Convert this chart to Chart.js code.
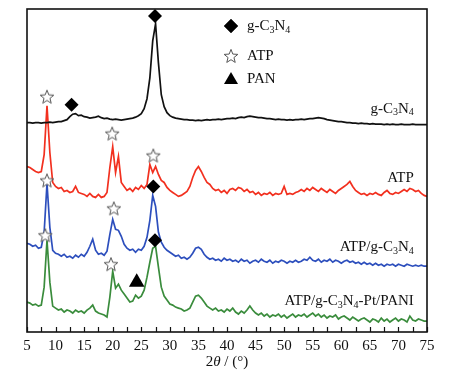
<!DOCTYPE html>
<html>
<head>
<meta charset="utf-8">
<script src="https://cdn.jsdelivr.net/npm/chart.js@4/dist/chart.umd.min.js"></script>
<style>
  html, body { margin: 0; padding: 0; background: #fff; }
  canvas { display: block; }
</style>
</head>
<body>
<canvas id="chart" width="464" height="376" style="width:464px;height:376px"></canvas>
<script>
'use strict'

// 2theta grid (degrees)
const twoTheta = [
  5, 5.5, 6, 6.5, 7, 7.5, 8, 8.5, 9, 9.5,
  10, 10.5, 11, 11.5, 12, 12.5, 13, 13.5, 14, 14.5,
  15, 15.5, 16, 16.5, 17, 17.5, 18, 18.5, 19, 19.5,
  20, 20.5, 21, 21.5, 22, 22.5, 23, 23.5, 24, 24.5,
  25, 25.5, 26, 26.5, 27, 27.5, 28, 28.5, 29, 29.5,
  30, 30.5, 31, 31.5, 32, 32.5, 33, 33.5, 34, 34.5,
  35, 35.5, 36, 36.5, 37, 37.5, 38, 38.5, 39, 39.5,
  40, 40.5, 41, 41.5, 42, 42.5, 43, 43.5, 44, 44.5,
  45, 45.5, 46, 46.5, 47, 47.5, 48, 48.5, 49, 49.5,
  50, 50.5, 51, 51.5, 52, 52.5, 53, 53.5, 54, 54.5,
  55, 55.5, 56, 56.5, 57, 57.5, 58, 58.5, 59, 59.5,
  60, 60.5, 61, 61.5, 62, 62.5, 63, 63.5, 64, 64.5,
  65, 65.5, 66, 66.5, 67, 67.5, 68, 68.5, 69, 69.5,
  70, 70.5, 71, 71.5, 72, 72.5, 73, 73.5, 74, 74.5,
  75
]

// stacked intensities (arbitrary units, offset per pattern)
const gcn = [
  210, 210, 209.5, 210, 210, 209.5, 210, 210, 210.5, 210,
  210.5, 211, 211, 212, 213, 216, 218.5, 219, 217, 217.5,
  216, 215.5, 214.5, 215, 215.5, 216.5, 215, 214, 214.5, 213.5,
  213, 213.5, 213, 212.5, 213, 213.5, 214, 214.5, 215.5, 217,
  219, 224, 234, 255, 292, 309, 270, 238, 226, 220,
  217, 215.5, 214.5, 214, 213.5, 213, 213, 212.5, 212.5, 212,
  212.5, 212, 212.5, 213, 212.5, 213, 213, 213.5, 213, 213.5,
  214, 214, 214.5, 214, 215, 215.5, 215, 216, 216.5, 216,
  215.5, 215, 215, 214.5, 214, 214, 213.5, 213, 213.5, 213,
  213, 212.5, 213, 212.5, 213, 213, 213.5, 213, 213.5, 214,
  214, 214.5, 215, 214.5, 214, 213, 212.5, 212, 211.5, 211,
  211, 210.5, 210, 210, 209.5, 209.5, 209, 209.5, 209, 209,
  208.5, 209, 208.5, 208.5, 208.5, 208, 208.5, 208, 208.5, 208,
  208, 208.5, 208, 208, 208, 208.5, 208, 208, 208, 208,
  208
]

const atp = [
  166, 165, 163, 161, 160, 161, 178, 227, 180, 150,
  146, 144, 145, 141, 142, 140, 141, 146, 140, 139,
  138, 136, 139, 136, 135, 138, 135, 136, 140, 165,
  186, 160, 176, 150, 146, 142, 144, 141, 145, 143,
  147, 144, 148, 168, 160, 166, 158, 152, 150, 145,
  142, 140, 138, 136, 137, 139, 141, 146, 155, 162,
  166, 161, 155, 150, 148, 144, 142, 143, 140, 142,
  139, 143, 144, 142, 145, 144, 141, 143, 140, 141,
  138, 140, 137, 139, 138, 140, 137, 139, 138, 139,
  146, 138, 139, 138, 140, 141, 143, 141, 144, 142,
  145, 143, 141, 144, 142, 140, 143, 141, 139, 142,
  144, 146, 148, 151, 146, 142, 140, 138, 139, 137,
  139, 138, 140, 138, 137, 140, 142, 139, 138, 140,
  139, 141, 143, 141, 144, 143, 141, 142, 139, 137,
  136
]

const atpGcn = [
  89, 88, 86, 87, 84, 85, 100, 149, 105, 82,
  79, 78, 76, 78, 75, 76, 74, 77, 75, 78,
  76, 80, 86, 93, 82, 78, 79, 77, 81, 98,
  113, 103, 102, 96, 88, 84, 82, 83, 80, 83,
  82, 86, 95, 112, 137, 126, 100, 90, 85, 82,
  80, 78, 76, 77, 74, 75, 73, 75, 79, 84,
  85, 83, 78, 75, 73, 74, 72, 73, 71, 74,
  72, 73, 71, 72, 70, 73, 71, 72, 69, 71,
  72, 70, 73, 71, 70, 72, 69, 71, 70, 72,
  71, 69, 71, 70, 72, 70, 71, 73, 72, 75,
  72, 71, 73, 70, 72, 71, 73, 70, 72, 71,
  69, 71, 72, 70, 71, 69, 70, 68, 70, 68,
  69, 67, 69, 67, 68, 66, 68, 67, 68, 66,
  68, 67, 66, 68, 67, 66, 67, 66, 67, 66,
  66
]

const atpGcnPtPani = [
  30, 29, 27, 28, 26, 27, 45, 92, 50, 26,
  24, 22, 23, 20, 22, 21, 19, 22, 20, 21,
  19, 22, 24, 27, 21, 19, 18, 17, 15, 35,
  61, 44, 48, 42, 38, 34, 30, 31, 37, 34,
  36, 42, 55, 70, 84, 86, 65, 45, 36, 32,
  28, 27, 25, 24, 23, 21, 22, 24, 30, 36,
  37, 34, 30, 26, 24, 22, 24, 21, 22, 20,
  23, 21, 24, 20, 18, 21, 19, 22, 26, 22,
  19, 17, 19, 16, 18, 15, 17, 16, 18, 15,
  17, 14, 16, 18, 15, 17, 16, 18, 15, 17,
  19, 16, 18, 15, 17, 14, 16, 15, 17, 13,
  15, 16, 14, 12, 15, 13, 11, 13, 14, 12,
  10, 13, 12, 10, 14, 11, 13, 10, 12, 14,
  11, 13, 12, 10, 16, 12, 11, 13, 12, 11,
  11
]

// phase marks
const diamondX = [27.4, 12.8, 27.1, 27.4]
const diamondY = [317, 228, 146, 92]
const starX = [8.5, 19.9, 27.1, 8.5, 20.2, 8.2, 19.7]
const starY = [236, 199, 177, 152, 124, 97, 68]
const triangleX = [24.2]
const triangleY = [50]

// curve names, right-aligned near the end of each pattern
const curveNames = ['g-C_3N_4', 'ATP', 'ATP/g-C_3N_4', 'ATP/g-C_3N_4-Pt/PANI']
const curveNameY = [224, 154, 85, 31]
const legendNames = ['g-C_3N_4', 'ATP', 'PAN']

const xTicks = [5, 10, 15, 20, 25, 30, 35, 40, 45, 50, 55, 60, 65, 70, 75]

const SERIF = '"Liberation Serif", "DejaVu Serif", serif'

const starImg = (() => {
  const c = document.createElement('canvas')
  c.width = 16
  c.height = 16
  const g = c.getContext('2d')
  g.beginPath()
  for (let i = 0; i < 10; i++) {
    const r = i % 2 ? 3.1 : 7.2
    const a = -Math.PI / 2 + i * Math.PI / 5
    g.lineTo(8 + r * Math.cos(a), 8.6 + r * Math.sin(a))
  }
  g.closePath()
  g.fillStyle = '#fff'
  g.fill()
  g.strokeStyle = '#555'
  g.lineWidth = 1
  g.stroke()
  return c
})()

const pts = (xs, ys) => xs.map((x, i) => ({ x, y: ys[i] }))

function richText(ctx, label, x, y, align) {
  const big = '15px ' + SERIF
  const small = '10px ' + SERIF
  const parts = label.split(/_(\d)/).map((t, i) => ({ t, sub: i % 2 === 1 })).filter(p => p.t)
  let w = 0
  parts.forEach(p => {
    ctx.font = p.sub ? small : big
    w += ctx.measureText(p.t).width
  })
  let cx = align === 'right' ? x - w : x
  ctx.textAlign = 'left'
  ctx.textBaseline = 'middle'
  ctx.fillStyle = '#111'
  parts.forEach(p => {
    ctx.font = p.sub ? small : big
    ctx.fillText(p.t, cx, p.sub ? y + 4 : y)
    cx += ctx.measureText(p.t).width
  })
}

const decorations = {
  id: 'decorations',
  afterDraw(chart) {
    const { ctx, chartArea: a, scales } = chart
    const xs = scales.x
    const ys = scales.y
    ctx.save()

    // frame
    ctx.strokeStyle = '#111'
    ctx.lineWidth = 1.6
    ctx.strokeRect(a.left, a.top, a.right - a.left, a.bottom - a.top)

    // inward ticks every 2.5 degrees
    ctx.lineWidth = 1.2
    ctx.beginPath()
    for (let v = 5; v <= 75; v += 2.5) {
      const px = Math.round(xs.getPixelForValue(v)) + 0.5
      ctx.moveTo(px, a.bottom)
      ctx.lineTo(px, a.bottom - 5)
    }
    ctx.stroke()

    // axis title 2θ / (°)
    ctx.fillStyle = '#111'
    ctx.textBaseline = 'middle'
    ctx.textAlign = 'left'
    const segs = [['2', ''], ['θ', 'italic '], [' / (°)', '']]
    let tw = 0
    segs.forEach(([t, st]) => { ctx.font = st + '15px ' + SERIF; tw += ctx.measureText(t).width })
    let tx = (a.left + a.right) / 2 - tw / 2
    segs.forEach(([t, st]) => {
      ctx.font = st + '15px ' + SERIF
      ctx.fillText(t, tx, 362)
      tx += ctx.measureText(t).width
    })

    // curve names
    curveNames.forEach((n, i) => {
      richText(ctx, n, xs.getPixelForValue(72.7), ys.getPixelForValue(curveNameY[i]), 'right')
    })

    // legend
    const lx = a.left + 204
    const ly = [a.top + 17, a.top + 47, a.top + 70]
    Chart.helpers.drawPoint(ctx, { pointStyle: 'rectRot', radius: 7, rotation: 0, borderWidth: 0 }, lx, ly[0])
    ctx.fillStyle = '#000'
    ctx.fill()
    ctx.drawImage(starImg, lx - 8, ly[1] - 8)
    ctx.beginPath()
    ctx.moveTo(lx, ly[2] - 7)
    ctx.lineTo(lx + 7, ly[2] + 5)
    ctx.lineTo(lx - 7, ly[2] + 5)
    ctx.closePath()
    ctx.fillStyle = '#000'
    ctx.fill()
    legendNames.forEach((n, i) => richText(ctx, n, lx + 16, ly[i], 'left'))

    ctx.restore()
  }
}

const lineDs = (data, color) => ({
  type: 'line',
  data: pts(twoTheta, data),
  borderColor: color,
  borderWidth: 1.7,
  pointRadius: 0,
  tension: 0,
  order: 2
})

new Chart(document.getElementById('chart').getContext('2d'), {
  type: 'line',
  data: {
    datasets: [
      {
        type: 'scatter',
        data: pts(diamondX, diamondY),
        pointStyle: 'rectRot',
        pointRadius: 7,
        backgroundColor: '#000',
        borderColor: '#000',
        borderWidth: 0,
        order: 0
      },
      {
        type: 'scatter',
        data: pts(starX, starY),
        pointStyle: starImg,
        order: 0
      },
      {
        type: 'scatter',
        data: pts(triangleX, triangleY),
        pointStyle: 'triangle',
        pointRadius: 9,
        backgroundColor: '#000',
        borderColor: '#000',
        borderWidth: 0,
        order: 0
      },
      lineDs(gcn, '#111111'),
      lineDs(atp, '#f2301f'),
      lineDs(atpGcn, '#2d4fbd'),
      lineDs(atpGcnPtPani, '#3a8c3c')
    ]
  },
  options: {
    responsive: false,
    animation: false,
    devicePixelRatio: 1,
    layout: { padding: { left: 27, right: 37, top: 8, bottom: 0 } },
    plugins: {
      legend: { display: false },
      tooltip: { enabled: false }
    },
    scales: {
      x: {
        type: 'linear',
        min: 5,
        max: 75,
        afterFit: scale => { scale.height = 44 },
        afterBuildTicks: scale => { scale.ticks = xTicks.map(value => ({ value })) },
        grid: { display: false, drawTicks: false },
        border: { display: false },
        ticks: {
          padding: 5,
          color: '#111',
          font: { family: SERIF, size: 15 },
          maxRotation: 0,
          autoSkip: false
        }
      },
      y: {
        display: false,
        min: 0,
        max: 324
      }
    }
  },
  plugins: [decorations]
})
</script>
</body>
</html>
